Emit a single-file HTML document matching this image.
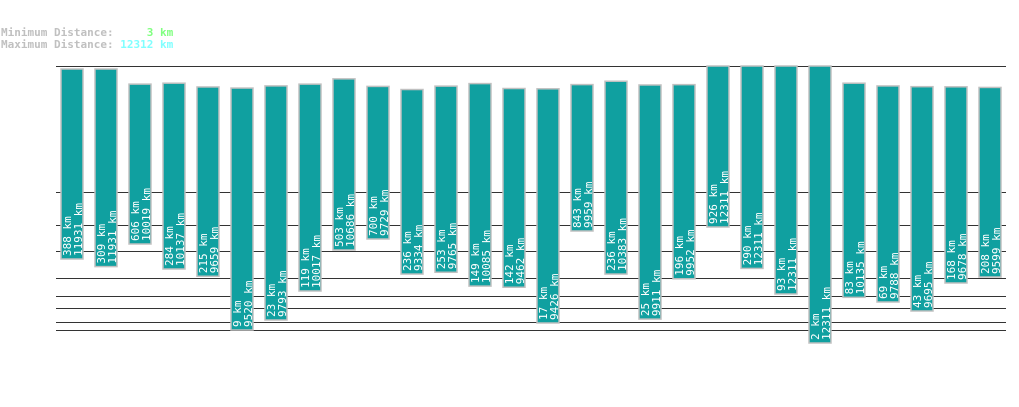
<!DOCTYPE html>
<html><head><meta charset="utf-8"><style>
html,body{margin:0;padding:0;background:#fff;}
svg text{font-family:"DejaVu Sans Mono","Liberation Mono",monospace;}
</style></head><body>
<svg id="chart" width="1019" height="402" xmlns="http://www.w3.org/2000/svg">
<g font-size="11" font-weight="bold">
<text x="1" y="36" fill="#c0c0c0" xml:space="preserve">Minimum Distance:     <tspan fill="#80ff80">3 km</tspan></text>
<text x="1" y="48" fill="#c0c0c0" xml:space="preserve">Maximum Distance: <tspan fill="#80ffff">12312 km</tspan></text>
</g>
<g id="grid"></g>
<g id="bars"></g>
</svg>
<script>
const mins = [388,309,606,284,215,9,23,119,503,700,236,253,149,142,17,843,236,25,196,926,290,93,2,83,69,43,168,208];
const maxs = [11931,11931,10019,10137,9659,9520,9793,10017,10686,9729,9334,9765,10085,9462,9426,9959,10383,9911,9952,12311,12311,12311,12311,10135,9788,9695,9678,9599];
const maxDistance = 12312;
// scale anchors for the (non-linear) lower axis
const scaleVals = [2,9,17,23,43,69,93,119,168,208,284,388,503,606,700,843,926,2000];
const scaleYs   = [343,330,323,320,311,302,294,291,283,277,269,259,250,244,239,231,227,190];
const gridYs = [66,192,225,251,278,296,308,322,330];
function yTop(v){return 66+(maxDistance-v)*0.0079;}
function yBottom(v){
  for(let i=0;i<scaleVals.length-1;i++){
    if(v<=scaleVals[i+1]){const t=(v-scaleVals[i])/(scaleVals[i+1]-scaleVals[i]);return scaleYs[i]+t*(scaleYs[i+1]-scaleYs[i]);}
  }
  return scaleYs[scaleYs.length-1];
}
function xPos(i){return 61+i*34;}
const NS="http://www.w3.org/2000/svg";
const grid=document.getElementById('grid');
gridYs.forEach((y,i)=>{
  const l=document.createElementNS(NS,'line');
  l.setAttribute('x1',56);l.setAttribute('x2',1006);l.setAttribute('y1',y+0.5);l.setAttribute('y2',y+0.5);
  l.setAttribute('stroke','#333');l.setAttribute('stroke-width',1);
  
  
  grid.appendChild(l);
});
const bars=document.getElementById('bars');
mins.forEach((mn,i)=>{
  const mx=maxs[i];
  const g=document.createElementNS(NS,'g');
  
  
  const t=yTop(mx), b=yBottom(mn), x=xPos(i);
  const r=document.createElementNS(NS,'rect');
  r.setAttribute('x',x);r.setAttribute('y',t);r.setAttribute('width',22);r.setAttribute('height',b-t);
  r.setAttribute('fill','#10a0a0');r.setAttribute('stroke','#c0c0c0');r.setAttribute('stroke-width',1.5);
  
  
  g.appendChild(r);
  [[mn+' km',x+10],[mx+' km',x+21]].forEach(([s,tx],k)=>{
    const tt=document.createElementNS(NS,'text');
    tt.setAttribute('transform','translate('+tx+','+(b-3)+') rotate(-90)');
    tt.setAttribute('font-size','11');tt.setAttribute('fill','#ffffff');
    tt.textContent=s;
    
    
    g.appendChild(tt);
  });
  bars.appendChild(g);
});
</script>
</body></html>
